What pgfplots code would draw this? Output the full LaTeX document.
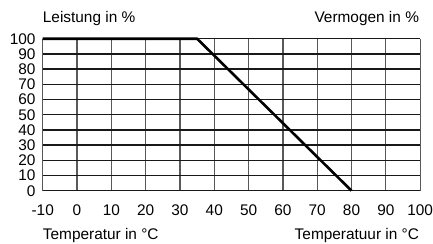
\documentclass[border=0pt]{standalone}
\usepackage{fontspec}
\setmainfont{Liberation Sans}
\usepackage{pgfplots}
\pgfplotsset{compat=1.18}
\begin{document}
\fontsize{15.5}{17}\selectfont
\begin{tikzpicture}[x=1pt,y=1pt]
\begin{axis}[
  at={(43pt,53pt)}, anchor=south west,
  scale only axis, width=380pt, height=153pt,
  xmin=-10, xmax=100, ymin=0, ymax=100,
  xtick={-10,0,...,100}, ytick={0,10,...,100},
  major tick length=0pt,
  axis line style={draw=none},
  xmajorgrids, ymajorgrids,
  x grid style={draw=black!65, line width=1.2pt},
  y grid style={draw=black!90, line width=1.5pt},
  /pgf/number format/assume math mode=true,
  tick label style={font=\fontsize{15.5}{15.5}\selectfont},
  xticklabel style={anchor=base, yshift=-25pt, inner sep=0pt},
  yticklabel style={anchor=east, inner sep=0pt, xshift=-7pt},
  clip=false,
]
\addplot[black, line width=2.6pt, line join=round] coordinates {(-10,100) (35,100) (80,0)};
\end{axis}
\node[anchor=base west, inner sep=0pt] at (43,222.5) {Leistung in \%};
\node[anchor=base east, inner sep=0pt] at (422,222.5) {Vermogen in \%};
\node[anchor=base west, inner sep=0pt] at (43,3.5) {Temperatur in °C};
\node[anchor=base east, inner sep=0pt] at (422,3.5) {Temperatuur in °C};
\path[use as bounding box] (0,0) rectangle (433,245);
\end{tikzpicture}
\end{document}
